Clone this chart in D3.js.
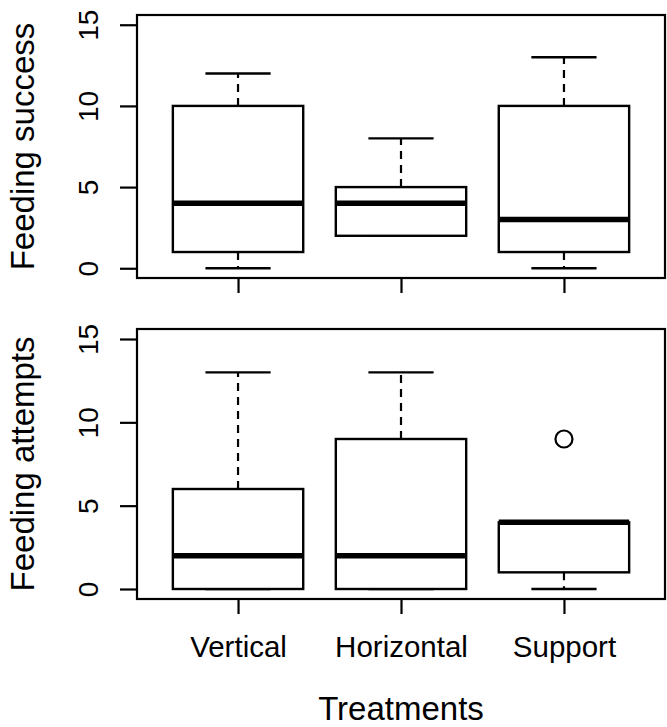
<!DOCTYPE html>
<html lang="en">
<head>
    <meta charset="UTF-8">
    <title>Feeding success and attempts by treatment</title>
    <style>
        body { margin: 0; background: #fff; }
        svg { display: block; font-family: "Liberation Sans", Arial, sans-serif; }
    </style>
</head>
<body>
    <svg width="667" height="727"></svg>

    <script src="https://d3js.org/d3.v7.min.js"></script>
    <script>
        // box statistics
        const categories = ["Vertical", "Horizontal", "Support"];
        const yTicks = [0, 5, 10, 15];

        const successLow = [0, 2, 0];
        const successQ1 = [1, 2, 1];
        const successMedian = [4, 4, 3];
        const successQ3 = [10, 5, 10];
        const successHigh = [12, 8, 13];
        const successOutliers = [];

        const attemptsLow = [0, 0, 0];
        const attemptsQ1 = [0, 0, 1];
        const attemptsMedian = [2, 2, 4];
        const attemptsQ3 = [6, 9, 4];
        const attemptsHigh = [13, 13, 4];
        const attemptsOutliers = [{ cat: "Support", value: 9 }];

        const svg = d3.select("svg");
        const left = 137, right = 665;

        // R style: boxes at 1..n, range padded by 4%
        const x = d3.scaleLinear().domain([0.38, 3.62]).range([left, right]);
        const boxHalf = (x(1.4) - x(0.6)) / 2;
        const capHalf = (x(1.2) - x(0.8)) / 2;

        const panels = [
            { top: 15, bottom: 278, title: "Feeding success", labels: false,
              low: successLow, q1: successQ1, med: successMedian, q3: successQ3, high: successHigh, out: successOutliers },
            { top: 329, bottom: 599, title: "Feeding attempts", labels: true,
              low: attemptsLow, q1: attemptsQ1, med: attemptsMedian, q3: attemptsQ3, high: attemptsHigh, out: attemptsOutliers }
        ];

        panels.forEach(p => {
            const y = d3.scaleLinear().domain([-0.6, 15.6]).range([p.bottom, p.top]);
            const g = svg.append("g");

            const boxes = categories.map((c, i) => ({
                cx: x(i + 1), low: p.low[i], q1: p.q1[i], med: p.med[i], q3: p.q3[i], high: p.high[i]
            }));

            // whiskers (dashed) and staples
            boxes.forEach(b => {
                [[b.q3, b.high], [b.q1, b.low]].forEach(([from, to]) => {
                    if (from !== to) {
                        g.append("line")
                            .attr("x1", b.cx).attr("x2", b.cx)
                            .attr("y1", y(from)).attr("y2", y(to))
                            .attr("stroke", "#000").attr("stroke-width", 2.2)
                            .attr("stroke-dasharray", "8,6");
                    }
                    g.append("line")
                        .attr("x1", b.cx - capHalf).attr("x2", b.cx + capHalf)
                        .attr("y1", y(to)).attr("y2", y(to))
                        .attr("stroke", "#000").attr("stroke-width", 2.4);
                });
            });

            g.selectAll("rect.box")
                .data(boxes)
                .enter().append("rect")
                .attr("class", "box")
                .attr("x", d => d.cx - boxHalf)
                .attr("width", boxHalf * 2)
                .attr("y", d => y(d.q3))
                .attr("height", d => y(d.q1) - y(d.q3))
                .attr("fill", "#fff")
                .attr("stroke", "#000")
                .attr("stroke-width", 2.4);

            g.selectAll("line.median")
                .data(boxes)
                .enter().append("line")
                .attr("class", "median")
                .attr("x1", d => d.cx - boxHalf)
                .attr("x2", d => d.cx + boxHalf)
                .attr("y1", d => y(d.med))
                .attr("y2", d => y(d.med))
                .attr("stroke", "#000")
                .attr("stroke-width", 5.5);

            g.selectAll("circle.out")
                .data(p.out)
                .enter().append("circle")
                .attr("class", "out")
                .attr("cx", d => x(categories.indexOf(d.cat) + 1))
                .attr("cy", d => y(d.value))
                .attr("r", 8.5)
                .attr("fill", "none")
                .attr("stroke", "#000")
                .attr("stroke-width", 2.2);

            // frame
            g.append("rect")
                .attr("x", left).attr("y", p.top)
                .attr("width", right - left).attr("height", p.bottom - p.top)
                .attr("fill", "none").attr("stroke", "#000").attr("stroke-width", 2.2);

            // y axis, labels rotated like R's las = 0
            const ya = g.append("g")
                .attr("transform", `translate(${left},0)`)
                .call(d3.axisLeft(y).tickValues(yTicks).tickSize(17).tickFormat(d3.format("d")));
            ya.select(".domain").remove();
            ya.selectAll(".tick line").attr("stroke", "#000").attr("stroke-width", 2.2);
            ya.selectAll(".tick text")
                .attr("transform", "rotate(-90)")
                .attr("x", 0).attr("y", -39).attr("dy", null)
                .attr("text-anchor", "middle")
                .attr("fill", "#000")
                .style("font-size", "28px");

            // x axis
            const xa = g.append("g")
                .attr("transform", `translate(0,${p.bottom})`)
                .call(d3.axisBottom(x).tickValues([1, 2, 3]).tickSize(15)
                    .tickFormat(d => p.labels ? categories[d - 1] : ""));
            xa.select(".domain").remove();
            xa.selectAll(".tick line").attr("stroke", "#000").attr("stroke-width", 2.2);
            xa.selectAll(".tick text")
                .attr("y", 58).attr("dy", null)
                .attr("fill", "#000")
                .style("font-size", "29.5px");

            g.append("text")
                .attr("transform", `translate(34,${(p.top + p.bottom) / 2}) rotate(-90)`)
                .attr("text-anchor", "middle")
                .style("font-size", "33px")
                .text(p.title);
        });

        svg.append("text")
            .attr("x", x(2))
            .attr("y", 720)
            .attr("text-anchor", "middle")
            .style("font-size", "33px")
            .text("Treatments");
    </script>
</body>
</html>
